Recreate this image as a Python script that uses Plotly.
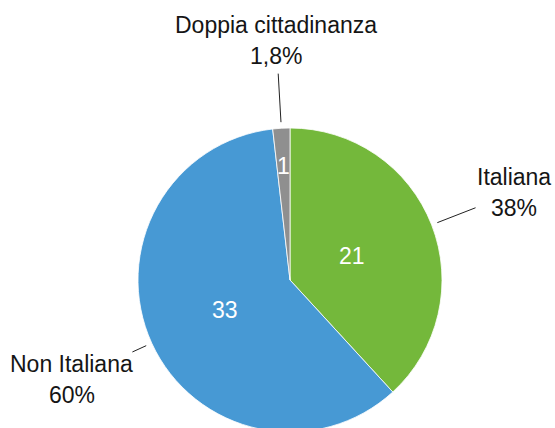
import numpy as np
import plotly.graph_objects as go

# ---- data ----
labels = ["Italiana", "Non Italiana", "Doppia cittadinanza"]
values = [21, 33, 1]
colors = ["#74b83b", "#4799d4", "#8f8f8f"]

# ---- layout geometry (pixels) ----
W, H = 555, 432                   # slightly taller than the 428 window: pie bottom runs off the edge
cx, cy, R = 290, 280, 152
in_r = [0.44, 0.47, 0.75]        # inside value label radius (fraction of R)
out_r = 1.58                      # outside label centre radius
line_r1 = 1.04                    # leader line start
line_r2 = [1.31, 1.14, 1.36]      # leader line end
FONT = "Liberation Sans, Arial, sans-serif"

total = float(sum(values))
cum = np.cumsum([0] + values)
mid = [(cum[i] + values[i] / 2.0) / total * 2 * np.pi for i in range(len(values))]


def to_paper(r, theta):
    px = cx + r * R * np.sin(theta)
    py = cy - r * R * np.cos(theta)
    return px / W, 1 - py / H


def pct_text(v):
    p = 100 * v / total
    if p >= 10:
        return f"{p:.0f}%"
    return f"{p:.1f}%".replace(".", ",")


fig = go.Figure(
    go.Pie(
        labels=labels,
        values=values,
        sort=False,
        direction="clockwise",
        rotation=0,
        marker=dict(colors=colors, line=dict(color="white", width=0.8)),
        textinfo="none",
        hoverinfo="label+value+percent",
        domain=dict(x=[(cx - R) / W, (cx + R) / W], y=[(H - cy - R) / H, (H - cy + R) / H]),
        showlegend=False,
    )
)

annotations = []
shapes = []
for i, (lab, v) in enumerate(zip(labels, values)):
    th = mid[i]
    # inside value
    x, y = to_paper(in_r[i], th)
    annotations.append(dict(x=x, y=y, xref="paper", yref="paper", text=str(v), showarrow=False,
                            font=dict(family=FONT, size=23, color="white"),
                            xanchor="center", yanchor="middle"))
    # outside label (name + percent)
    x, y = to_paper(out_r, th)
    annotations.append(dict(x=x, y=y + 15.5 / H, xref="paper", yref="paper", text=lab, showarrow=False,
                            font=dict(family=FONT, size=23, color="#151515"),
                            xanchor="center", yanchor="middle"))
    annotations.append(dict(x=x, y=y - 15.5 / H, xref="paper", yref="paper", text=pct_text(v), showarrow=False,
                            font=dict(family=FONT, size=23, color="#151515"),
                            xanchor="center", yanchor="middle"))
    # leader line
    x0, y0 = to_paper(line_r1, th)
    x1, y1 = to_paper(line_r2[i], th)
    shapes.append(dict(type="line", xref="paper", yref="paper", x0=x0, y0=y0, x1=x1, y1=y1,
                       line=dict(color="#222222", width=1)))

fig.update_layout(
    width=W,
    height=H,
    margin=dict(l=0, r=0, t=0, b=0),
    paper_bgcolor="white",
    plot_bgcolor="white",
    annotations=annotations,
    shapes=shapes,
    font=dict(family=FONT),
)

fig.write_html("out.html", config={"displayModeBar": False},
               post_script="document.body.style.margin='0';document.body.style.overflow='hidden';")
